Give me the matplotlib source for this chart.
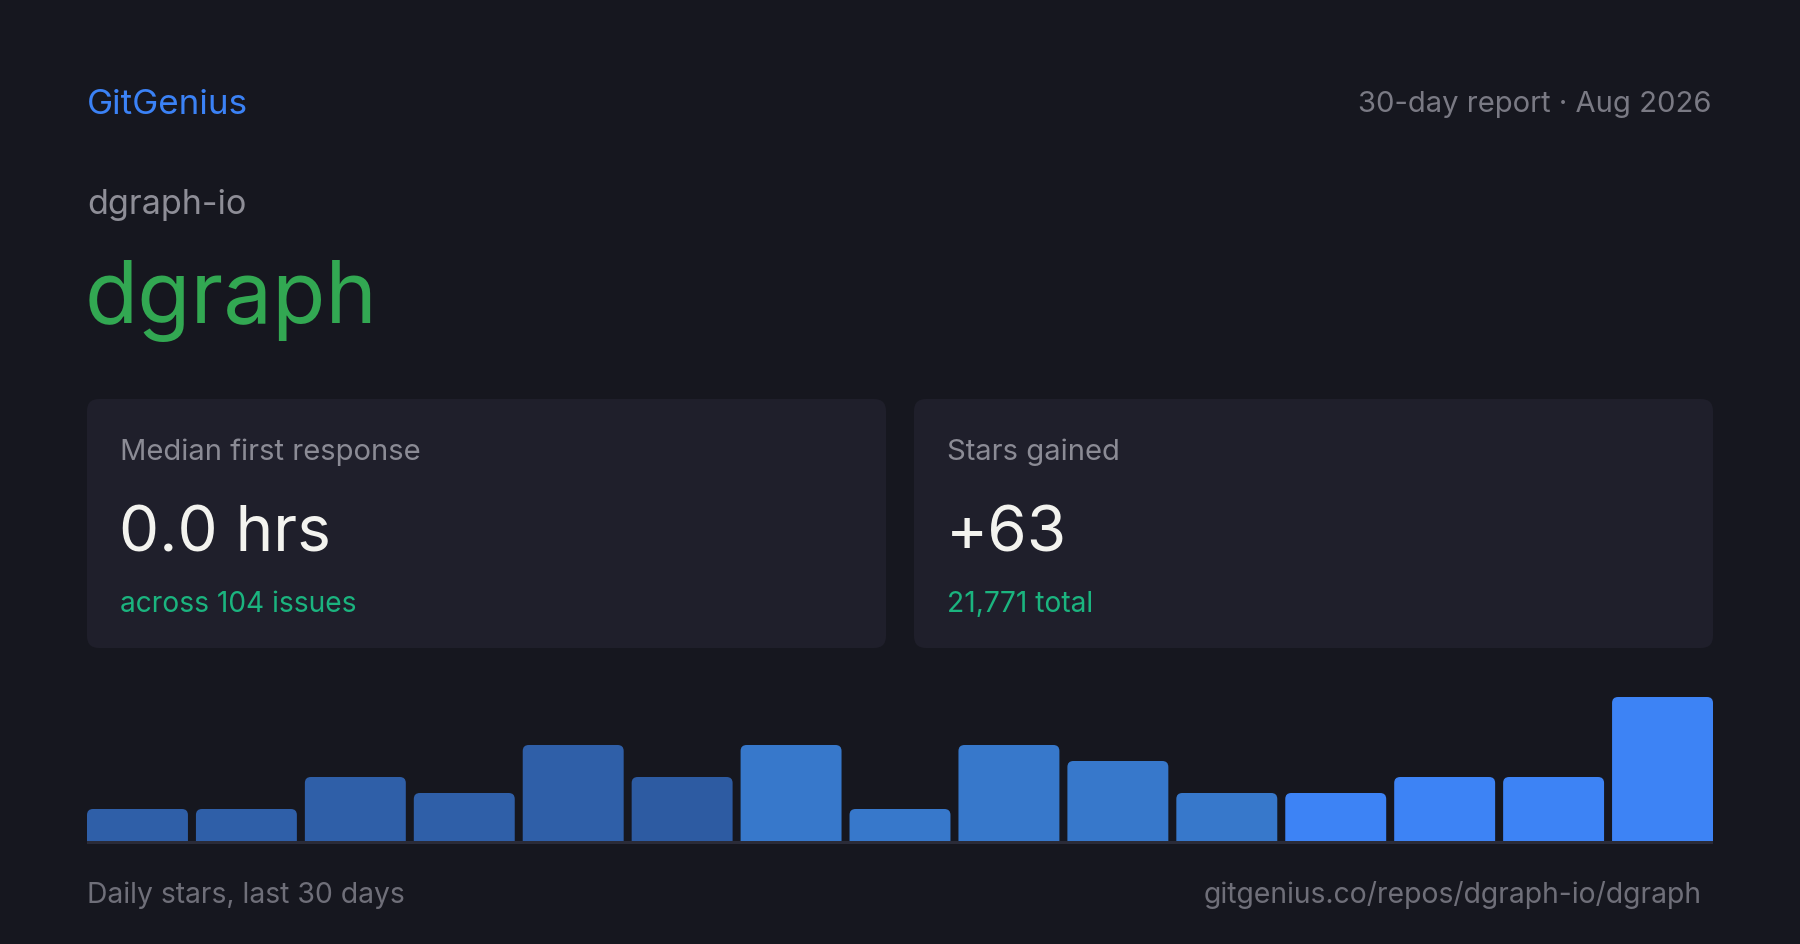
import matplotlib
matplotlib.use('Agg')
import matplotlib.pyplot as plt
from matplotlib.patches import FancyBboxPatch, Rectangle
from matplotlib.transforms import IdentityTransform

plt.rcParams['font.family'] = ['Inter', 'DejaVu Sans']

#%% data

brand = 'GitGenius'
report = '30-day report \u00b7 Aug 2026'
owner = 'dgraph-io'
repo = 'dgraph'

card_labels = ['Median first response', 'Stars gained']
card_values = ['0.0 hrs', '+63']
card_subs = ['across 104 issues', '21,771 total']

daily_stars = [2, 2, 4, 3, 6, 4, 6, 2, 6, 5, 3, 3, 4, 4, 9]
bar_colors = ['#2f5fa8', '#2f5fa8', '#2f5fa8', '#2f5fa8', '#2f5fa8', '#2d5ba2',
              '#3778cb', '#3778cb', '#3778cb', '#3778cb', '#3778cb',
              '#3d83f5', '#3d83f5', '#3d83f5', '#3d83f5']

footer_left = 'Daily stars, last 30 days'
footer_right = 'gitgenius.co/repos/dgraph-io/dgraph'

#%% canvas in pixel coords (top-down)

W, H = 1800, 945
BG = '#16171f'
CARD = '#1f1f2b'

fig = plt.figure(figsize=(W/100, H/100), dpi=100, facecolor=BG)
ax = fig.add_axes([0, 0, 1, 1])
ax.set_xlim(0, W)
ax.set_ylim(H, 0)
ax.axis('off')

def pt(px):
    return px*0.72

# header
ax.text(87, 114, brand, color='#3b82f6', fontsize=pt(35), va='baseline', ha='left')
ax.text(1712, 112, report, color='#7a7a84', fontsize=pt(29.2), va='baseline', ha='right')
ax.text(87, 214, owner, color='#8e8e97', fontsize=pt(34.2), va='baseline', ha='left')
ax.text(85, 323, repo, color='#32a852', fontsize=pt(87), va='baseline', ha='left')

# cards
card_x = [87, 914]
card_w = 799
for k in range(2):
    x0 = card_x[k]
    ax.add_patch(FancyBboxPatch((x0, 400), card_w, 249,
                                boxstyle='round,pad=0,rounding_size=12',
                                facecolor=CARD, edgecolor='none'))
    ax.text(x0+33, 460, card_labels[k], color='#8b8b95', fontsize=pt(29.2), va='baseline')
    ax.text(x0+32, 552, card_values[k], color='#f3f3ef', fontsize=pt(63.8), va='baseline')
    ax.text(x0+33, 612, card_subs[k], color='#1bb47f', fontsize=pt(28.2), va='baseline')

#%% bars

n = len(daily_stars)
pitch = 109.0
bw = 101.0
bar_left, bar_base, bar_h = 87, 842, 150
bax = fig.add_axes([bar_left/W, (H-bar_base)/H, 1626/W, bar_h/H])
bax.set_facecolor('none')
bax.axis('off')
bax.set_xlim(-bw/pitch/2, n-1+bw/pitch/2)
bax.set_ylim(0, bar_h/16.0)

bars = bax.bar(range(n), daily_stars, width=bw/pitch, color=bar_colors)
r = 6
for rect, c in zip(bars, bar_colors):
    (x0, y0), (x1, y1) = bax.transData.transform(
        [(rect.get_x(), 0), (rect.get_x()+rect.get_width(), rect.get_height())])
    rect.set_visible(False)
    p = FancyBboxPatch((x0, y0-r), x1-x0, y1-y0+r,
                       boxstyle='round,pad=0,rounding_size=%d' % r,
                       facecolor=c, edgecolor='none', transform=IdentityTransform())
    bax.add_patch(p)

ax.add_patch(Rectangle((87, 842), 1626, 3, facecolor='#2a2b38', edgecolor='none'))

# footer
ax.text(87, 903, footer_left, color='#6f6f79', fontsize=pt(28.3), va='baseline')
ax.text(1702, 903, footer_right, color='#6f6f79', fontsize=pt(28.3), va='baseline', ha='right')

fig.savefig('out.png', dpi=100, facecolor=BG)
